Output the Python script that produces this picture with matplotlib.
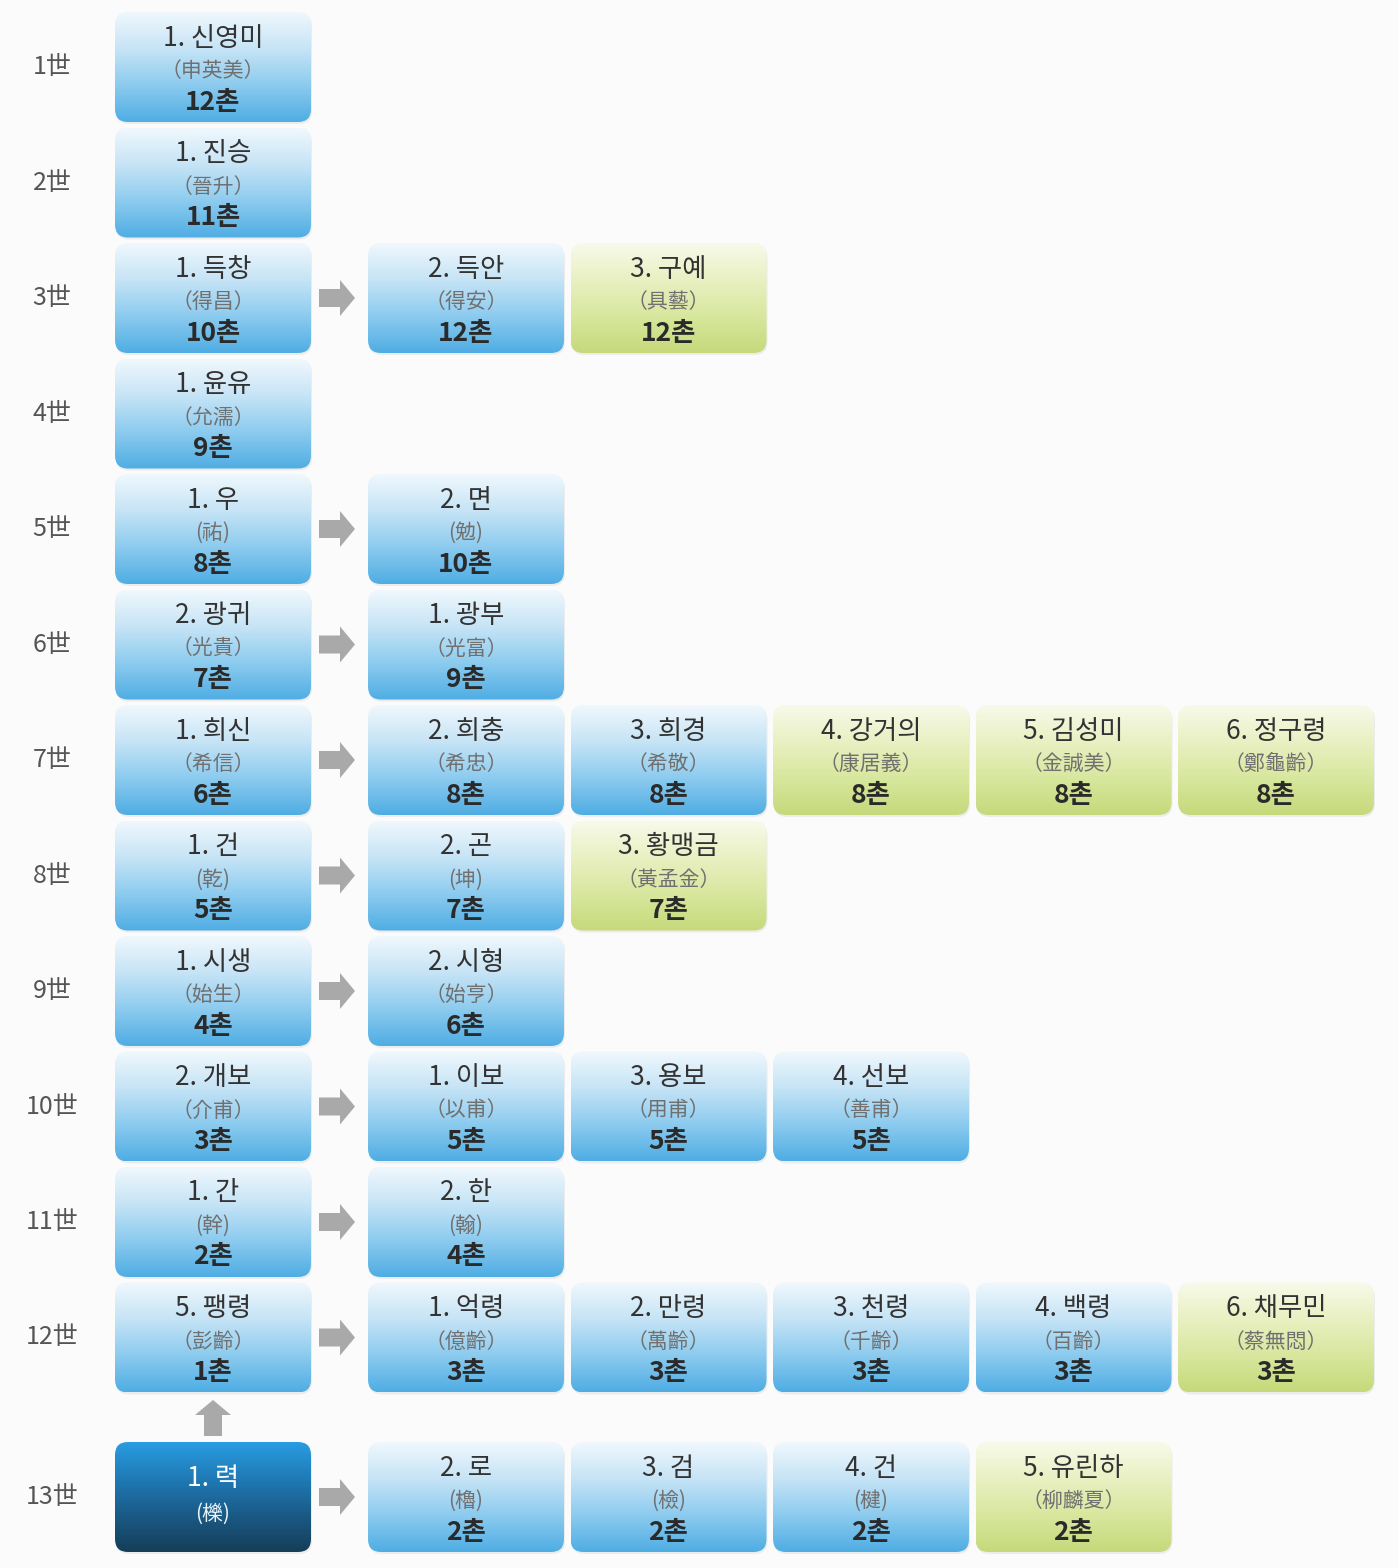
import matplotlib
matplotlib.use("Agg")
import matplotlib.pyplot as plt
import numpy as np
from matplotlib.patches import FancyBboxPatch, FancyArrow
from matplotlib.colors import LinearSegmentedColormap

plt.rcParams['font.family'] = ['Noto Sans CJK KR', 'DejaVu Sans']

# ---------------- data ----------------
gen_labels = ['1世', '2世', '3世', '4世', '5世', '6世', '7世', '8世', '9世',
              '10世', '11世', '12世', '13世']

names = [
    ['1. 신영미'],
    ['1. 진승'],
    ['1. 득창', '2. 득안', '3. 구예'],
    ['1. 윤유'],
    ['1. 우', '2. 면'],
    ['2. 광귀', '1. 광부'],
    ['1. 희신', '2. 희충', '3. 희경', '4. 강거의', '5. 김성미', '6. 정구령'],
    ['1. 건', '2. 곤', '3. 황맹금'],
    ['1. 시생', '2. 시형'],
    ['2. 개보', '1. 이보', '3. 용보', '4. 선보'],
    ['1. 간', '2. 한'],
    ['5. 팽령', '1. 억령', '2. 만령', '3. 천령', '4. 백령', '6. 채무민'],
    ['1. 력', '2. 로', '3. 검', '4. 건', '5. 유린하'],
]

hanja = [
    ['申英美'],
    ['晉升'],
    ['得昌', '得安', '具藝'],
    ['允濡'],
    ['祐', '勉'],
    ['光貴', '光富'],
    ['希信', '希忠', '希敬', '康居義', '金誠美', '鄭龜齡'],
    ['乾', '坤', '黃孟金'],
    ['始生', '始亨'],
    ['介甫', '以甫', '用甫', '善甫'],
    ['幹', '翰'],
    ['彭齡', '億齡', '萬齡', '千齡', '百齡', '蔡無悶'],
    ['櫟', '櫓', '檢', '楗', '柳麟夏'],
]

chon = [
    ['12촌'],
    ['11촌'],
    ['10촌', '12촌', '12촌'],
    ['9촌'],
    ['8촌', '10촌'],
    ['7촌', '9촌'],
    ['6촌', '8촌', '8촌', '8촌', '8촌', '8촌'],
    ['5촌', '7촌', '7촌'],
    ['4촌', '6촌'],
    ['3촌', '5촌', '5촌', '5촌'],
    ['2촌', '4촌'],
    ['1촌', '3촌', '3촌', '3촌', '3촌', '3촌'],
    ['', '2촌', '2촌', '2촌', '2촌'],
]

# B = blood relative (blue), G = spouse (green), D = self (dark)
kinds = ['B', 'B', 'BBG', 'B', 'BB', 'BB', 'BBBGGG', 'BBG', 'BB',
         'BBBB', 'BB', 'BBBBBG', 'DBBBG']

# ---------------- layout ----------------
W, H = 1398, 1568
fig = plt.figure(figsize=(W / 100, H / 100), dpi=100)
fig.patch.set_facecolor('#fbfbfb')
ax = fig.add_axes([0, 0, 1, 1])
ax.set_facecolor('#fbfbfb')

box_w, box_h = 196, 110
col0_x = 115
col1_x = 368
col_pitch = 202.5
row0_y = 12
row_pitch = 115.5
last_row_y = 1442
label_x = 52

cmaps = {
    'B': LinearSegmentedColormap.from_list('b', ['#f0f8fd', '#c6e4f6', '#8ccbef', '#4fade3']),
    'G': LinearSegmentedColormap.from_list('g', ['#f8faea', '#e9f0c2', '#d8e79e', '#c6d97a']),
    'D': LinearSegmentedColormap.from_list('d', ['#2a9de2', '#1f7ab5', '#1a5a86', '#163d58']),
}
grad = np.linspace(0, 1, 256).reshape(-1, 1)


def col_x(c):
    return col0_x if c == 0 else col1_x + (c - 1) * col_pitch


def row_y(r):
    return last_row_y if r == len(gen_labels) - 1 else row0_y + r * row_pitch


def draw_box(x0, y0, kind):
    sh = FancyBboxPatch((x0 + 1, y0 + 2), box_w, box_h,
                        boxstyle='round,pad=0,rounding_size=13',
                        facecolor='#000000', alpha=0.06, edgecolor='none', zorder=1)
    ax.add_patch(sh)
    patch = FancyBboxPatch((x0, y0), box_w, box_h,
                           boxstyle='round,pad=0,rounding_size=13',
                           facecolor='none', edgecolor='none', zorder=2)
    ax.add_patch(patch)
    im = ax.imshow(grad, cmap=cmaps[kind], aspect='auto', origin='upper',
                   extent=(x0, x0 + box_w, y0 + box_h, y0), zorder=2,
                   interpolation='bilinear')
    im.set_clip_path(patch)


def fmt_hanja(s):
    if len(s) == 1:
        return '(' + s + ')'
    return '（' + s + '）'


arrow_col = '#a9a9a9'
for r, lab in enumerate(gen_labels):
    y0 = row_y(r)
    yc = y0 + box_h / 2
    ax.text(label_x, yc, lab, ha='center', va='center', fontsize=18,
            color='#555555', zorder=5)
    for c, nm in enumerate(names[r]):
        x0 = col_x(c)
        xc = x0 + box_w / 2
        kind = kinds[r][c]
        draw_box(x0, y0, kind)
        if kind == 'D':
            ax.text(xc, y0 + 37, nm, ha='center', va='center', fontsize=19,
                    color='white', zorder=5)
            ax.text(xc, y0 + 72, fmt_hanja(hanja[r][c]), ha='center', va='center',
                    fontsize=15, color='#e8f2f8', zorder=5)
        else:
            ax.text(xc, y0 + 26, nm, ha='center', va='center', fontsize=19,
                    color='#333333', zorder=5)
            ax.text(xc, y0 + 59, fmt_hanja(hanja[r][c]), ha='center', va='center',
                    fontsize=15, color='#707070', zorder=5)
            ax.text(xc, y0 + 90, chon[r][c], ha='center', va='center', fontsize=19,
                    fontweight='bold', color='#2a2a2a', zorder=5)
    if len(names[r]) > 1:
        ax_start = col0_x + box_w + 8
        ax.add_patch(FancyArrow(ax_start, yc, 36, 0, width=18, head_width=36,
                                head_length=15, length_includes_head=True,
                                color=arrow_col, ec='none', zorder=3))

# upward arrow from self (13世) to father (12世)
xc0 = col0_x + box_w / 2
ax.add_patch(FancyArrow(xc0, last_row_y - 6, 0, -36, width=18, head_width=36,
                        head_length=15, length_includes_head=True,
                        color=arrow_col, ec='none', zorder=3))

ax.set_xlim(0, W)
ax.set_ylim(H, 0)
ax.axis('off')
fig.savefig('out.png', dpi=100, facecolor=fig.get_facecolor())
